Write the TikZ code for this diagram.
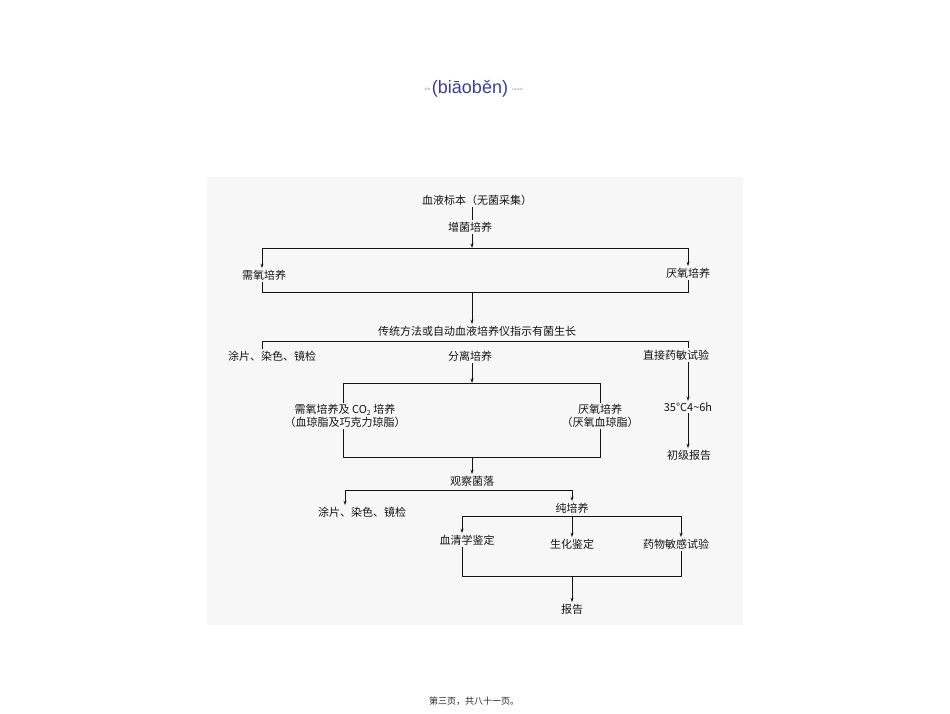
\documentclass[tikz,border=0pt]{standalone}
\usepackage{fontspec}
\setmainfont{Liberation Sans}
\newfontfamily\cjk{Noto Sans CJK SC}
\usetikzlibrary{arrows.meta}
\definecolor{titleblue}{HTML}{3C3C9C}
\definecolor{imgbg}{HTML}{F7F7F7}
\definecolor{ink}{HTML}{141414}
\tikzset{
  t/.style={font=\cjk\fontsize{11}{12.5}\selectfont, text=ink, inner sep=1.5pt},
  ln/.style={draw=ink, line width=0.9pt},
  ar/.style={ln, -{Stealth[length=4.5pt,width=3pt]}},
}
\begin{document}
\begin{tikzpicture}[x=1pt,y=-1pt]
\useasboundingbox (0,0) rectangle (950,713);
\fill[white] (0,0) rectangle (950,713);
\fill[imgbg] (207,177) rectangle (743,625);
% title
\node[font=\fontsize{18}{20}\selectfont, text=titleblue, inner sep=0pt] (title) at (470,89) {(biāoběn)};
\node[font=\cjk\fontsize{3}{3}\selectfont, text=titleblue!60, inner sep=0pt, anchor=east] (tl) at ([xshift=-1pt]title.west) {标本};
\node[font=\fontsize{3}{3}\selectfont, text=titleblue!60, inner sep=0pt, anchor=west] (tr) at ([xshift=4pt]title.east) {biāoběn};
% footer
\node[font=\cjk\fontsize{9}{10}\selectfont, text=black!85] (foot) at (474,701) {第三页，共八十一页。};

% flowchart
\node[t] (n1) at (477,200) {血液标本（无菌采集）};
\node[t] (n2) at (470,227) {增菌培养};
\coordinate (j1) at (472,248);
\coordinate (hl1) at (262,248);
\coordinate (hr1) at (688,248);
\node[t] (n3) at (264,275) {需氧培养};
\node[t] (n4) at (688,273) {厌氧培养};
\draw[ln] (n1.south -| j1) -- (n2.north -| j1);
\draw[ar] (n2.south -| j1) -- (j1);
\draw[ln] (hl1) -- (hr1);
\draw[ar] (hl1) -- (hl1 |- n3.north);
\draw[ar] (hr1) -- (hr1 |- n4.north);
\coordinate (bl1) at (262,292);
\coordinate (br1) at (688,292);
\coordinate (bc1) at (472,292);
\draw[ln] (hl1 |- n3.south) -- (bl1) -- (br1) -- (hr1 |- n4.south);

\node[t] (n5) at (477,331) {传统方法或自动血液培养仪指示有菌生长};
\draw[ar] (bc1) -- (bc1 |- n5.north);
\coordinate (hl2) at (262,341);
\coordinate (hr2) at (688,341);
\draw[ln] (hl2) -- (hr2);
\node[t] (n6) at (272,356) {涂片、染色、镜检};
\node[t] (n7) at (470,356) {分离培养};
\node[t] (n8) at (676,355) {直接药敏试验};
\draw[ln] (hl2) -- (hl2 |- n6.north);
\draw[ln] (hr2) -- (hr2 |- n8.north);

\coordinate (j3) at (472,383);
\draw[ar] (n7.south -| j3) -- (j3);
\coordinate (hl3) at (343,383);
\coordinate (hr3) at (600,383);
\draw[ln] (hl3) -- (hr3);
\node[t, align=center] (n9) at (345,416) {需氧培养及 CO\raisebox{-0.35ex}{\fontsize{7}{7}\selectfont 2} 培养\\（血琼脂及巧克力琼脂）};
\node[t, align=center] (n10) at (600,416) {厌氧培养\\（厌氧血琼脂）};
\draw[ln] (hl3) -- (hl3 |- n9.north);
\draw[ln] (hr3) -- (hr3 |- n10.north);
\coordinate (bl3) at (343,457);
\coordinate (br3) at (600,457);
\coordinate (bc3) at (472,457);
\draw[ln] (hl3 |- n9.south) -- (bl3) -- (br3) -- (hr3 |- n10.south);

\node[t] (n11) at (688,407) {35°C4\textasciitilde 6h};
\node[t] (n12) at (689,455) {初级报告};
\draw[ar] (n8.south -| hr2) -- (hr2 |- n11.north);
\draw[ar] (n11.south -| hr2) -- (hr2 |- n12.north);

\node[t] (n13) at (472,481) {观察菌落};
\draw[ar] (bc3) -- (n13.north);
\coordinate (hl4) at (345,490);
\coordinate (hr4) at (572,490);
\draw[ln] (hl4) -- (hr4);
\node[t] (n14) at (362,512) {涂片、染色、镜检};
\node[t] (n15) at (572,508) {纯培养};
\draw[ar] (hl4) -- (hl4 |- n14.north);
\draw[ar] (hr4) -- (n15.north);

\coordinate (hl5) at (462,516);
\coordinate (hr5) at (681,516);
\coordinate (hc5) at (572,516);
\draw[ln] (hl5) -- (hr5);
\node[t] (n16) at (467,540) {血清学鉴定};
\node[t] (n17) at (572,544) {生化鉴定};
\node[t] (n18) at (676,544) {药物敏感试验};
\draw[ar] (hl5) -- (hl5 |- n16.north);
\draw[ar] (hc5) -- (n17.north);
\draw[ar] (hr5) -- (hr5 |- n18.north);
\coordinate (bl5) at (462,576);
\coordinate (br5) at (681,576);
\coordinate (bc5) at (572,576);
\draw[ln] (hl5 |- n16.south) -- (bl5) -- (br5) -- (hr5 |- n18.south);
\node[t] (n19) at (572,609) {报告};
\draw[ar] (bc5) -- (n19.north);
\end{tikzpicture}
\end{document}
